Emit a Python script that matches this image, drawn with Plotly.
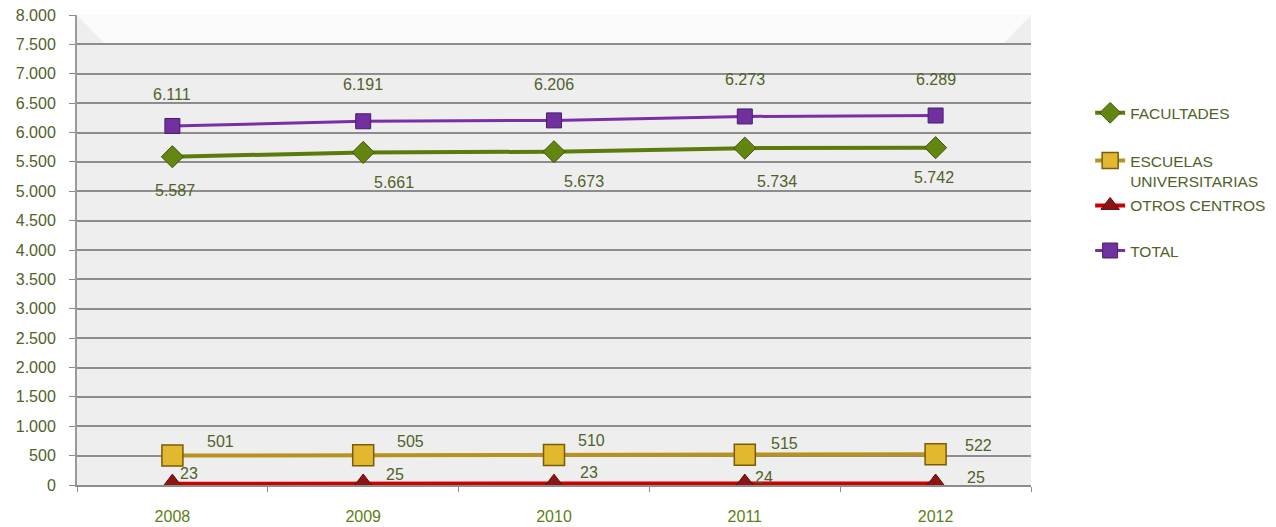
import plotly.graph_objects as go

years = ["2008", "2009", "2010", "2011", "2012"]
facultades = [5587, 5661, 5673, 5734, 5742]
escuelas = [501, 505, 510, 515, 522]
otros = [23, 25, 23, 24, 25]
total = [6111, 6191, 6206, 6273, 6289]

# label offsets (pixels) per point, style only
fac_shift = [(3, -34), (31, -30), (30, -30), (32, -33), (-2, -30)]
esc_shift = [(48, 14), (47, 14), (37, 15), (40, 11), (43, 9)]
otr_shift = [(17, 10), (32, 9), (35, 11), (19, 6), (40, 6)]
tot_shift = [(0, 31), (0, 37), (0, 36), (0, 37), (0, 36)]

TXT = "#4F6228"
FONT = "Liberation Sans, Arial, sans-serif"

fig = go.Figure()

fig.add_trace(go.Scatter(
    x=years, y=facultades, name="FACULTADES", mode="lines+markers",
    line=dict(color="#5B7B0C", width=4),
    marker=dict(symbol="diamond", size=17, color="#62860F",
                line=dict(color="#3E5508", width=1)),
    legend="legend", showlegend=True))
fig.add_trace(go.Scatter(
    x=years, y=escuelas, name="ESCUELAS<br>UNIVERSITARIAS", mode="lines+markers",
    line=dict(color="#B8921E", width=4),
    marker=dict(symbol="square", size=21, color="#E2B82E",
                line=dict(color="#7A5C08", width=1.5)),
    legend="legend2", showlegend=True))
fig.add_trace(go.Scatter(
    x=years, y=otros, name="OTROS CENTROS", mode="lines+markers",
    line=dict(color="#CC0000", width=4),
    marker=dict(symbol="triangle-up", size=19, color="#8E1414",
                line=dict(color="#5E0A0A", width=1)),
    legend="legend3", showlegend=True))
fig.add_trace(go.Scatter(
    x=years, y=total, name="TOTAL", mode="lines+markers",
    line=dict(color="#7A2FA6", width=3),
    marker=dict(symbol="square", size=15, color="#7030A0",
                line=dict(color="#4A1C6E", width=1)),
    legend="legend4", showlegend=True))

for vals, shifts in [(facultades, fac_shift), (escuelas, esc_shift),
                     (otros, otr_shift), (total, tot_shift)]:
    for i, (v, (dx, dy)) in enumerate(zip(vals, shifts)):
        fig.add_annotation(
            x=i, y=v, xref="x", yref="y",
            text=f"{v:,}".replace(",", "."),
            showarrow=False, xshift=dx, yshift=dy,
            font=dict(family=FONT, size=16, color=TXT))

leg_common = dict(xanchor="left", yanchor="middle", bgcolor="rgba(0,0,0,0)",
                  borderwidth=0,
                  font=dict(family=FONT, size=15.5, color=TXT))
LX = 1.062

fig.update_layout(
    width=1268, height=519,
    margin=dict(l=69, r=245, t=7, b=42, autoexpand=False),
    paper_bgcolor="white",
    plot_bgcolor="#EEEEEE",
    separators=",.",
    showlegend=True,
    font=dict(family=FONT, color=TXT),
    legend=dict(x=LX, y=0.791, **leg_common),
    legend2=dict(x=LX, y=0.668, valign="top", **leg_common),
    legend3=dict(x=LX, y=0.594, **leg_common),
    legend4=dict(x=LX, y=0.498, **leg_common),
    xaxis=dict(
        type="category", range=[-0.5, 4.5], showgrid=False,
        showline=True, linecolor="#8C8C8C", linewidth=2,
        ticks="outside", tickson="boundaries", ticklen=5, tickcolor="#8C8C8C",
        tickfont=dict(family=FONT, size=16, color="#5C7F14"),
        ticklabelstandoff=16,
        automargin=False, zeroline=False),
    yaxis=dict(
        range=[0, 8000], dtick=500, tickformat=",d",
        showgrid=True, gridcolor="#8C8C8C", gridwidth=2,
        showline=True, linecolor="#9A9A9A", linewidth=2,
        ticks="outside", ticklen=6, tickcolor="#8C8C8C",
        tickfont=dict(family=FONT, size=16, color=TXT),
        ticklabelstandoff=10, ticklabeloverflow="allow",
        automargin=False, zeroline=False),
    shapes=[
        dict(type="path", xref="paper", yref="y", layer="below",
             path="M 0.03,7500 L 0.97,7500 L 1,8000 L 0,8000 Z",
             fillcolor="#FBFBFB", line=dict(width=0)),
    ],
)

fig.write_html("out.html")
